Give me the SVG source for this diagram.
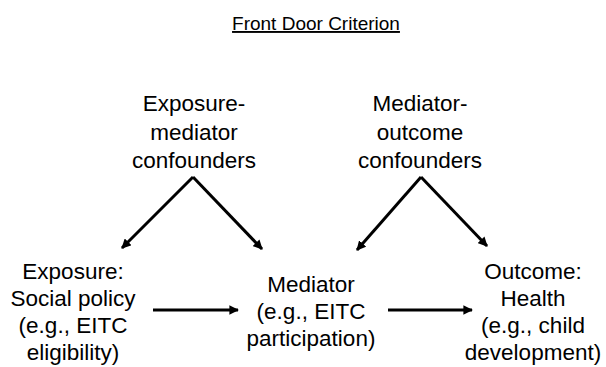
<svg xmlns="http://www.w3.org/2000/svg" width="606" height="367" viewBox="0 0 606 367">
<defs>
<marker id="ah" viewBox="0 0 10 10" refX="9" refY="5" markerWidth="3.2" markerHeight="3.2" orient="auto" markerUnits="strokeWidth">
<path d="M0,0 L10,5 L0,10 z" fill="#000"/>
</marker>
<style>
text{font-family:"Liberation Sans",Arial,sans-serif;font-size:22.5px;fill:#000;text-anchor:middle}
.title{font-size:19px;text-decoration:underline}
.c{stroke:#000;stroke-width:3;fill:none;marker-end:url(#ah)}
</style>
</defs>
<rect width="606" height="367" fill="#fff"/>
<text class="title" x="316" y="30">Front Door Criterion</text>
<g id="emc">
<text x="194" y="111">Exposure-</text>
<text x="194" y="140">mediator</text>
<text x="194" y="168">confounders</text>
</g>
<g id="moc">
<text x="420" y="111">Mediator-</text>
<text x="420" y="140">outcome</text>
<text x="420" y="168">confounders</text>
</g>
<g id="exposure">
<text x="73" y="279">Exposure:</text>
<text x="73" y="306">Social policy</text>
<text x="73" y="333">(e.g., EITC</text>
<text x="73" y="360">eligibility)</text>
</g>
<g id="mediator">
<text x="311" y="292">Mediator</text>
<text x="311" y="319">(e.g., EITC</text>
<text x="311" y="346">participation)</text>
</g>
<g id="outcome">
<text x="533" y="279">Outcome:</text>
<text x="533" y="306">Health</text>
<text x="533" y="333">(e.g., child</text>
<text x="533" y="360">development)</text>
</g>
<g id="connectors">
<line class="c" x1="193" y1="177" x2="122" y2="248"/>
<line class="c" x1="193" y1="177" x2="262" y2="249"/>
<line class="c" x1="421" y1="177" x2="357" y2="250"/>
<line class="c" x1="421" y1="177" x2="487" y2="246"/>
<line class="c" x1="153" y1="310" x2="238" y2="310"/>
<line class="c" x1="388" y1="310" x2="472" y2="310"/>
</g>
</svg>
